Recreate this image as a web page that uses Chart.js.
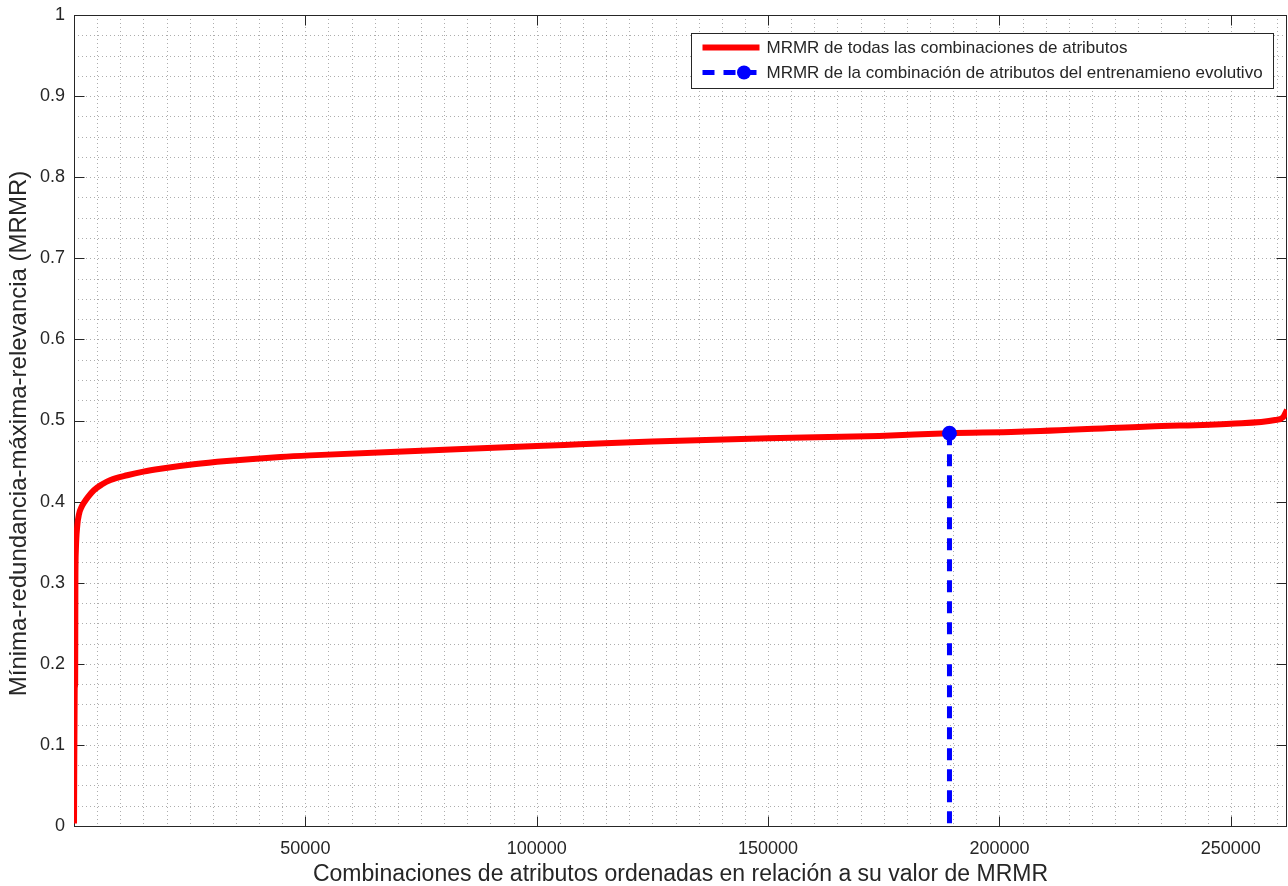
<!DOCTYPE html>
<html><head><meta charset="utf-8">
<script src="https://cdn.jsdelivr.net/npm/chart.js@4/dist/chart.umd.min.js"></script>
<style>html,body{margin:0;padding:0;background:#fff;} #wrap{width:1288px;height:886px;position:relative;}</style>
</head><body><div id="wrap"><canvas id="c" width="1288" height="886" style="width:1288px;height:886px"></canvas></div>
<script>
// ---- data ----
const combIndex = [1, 150, 250, 300, 400, 700, 1100, 1600, 2200, 3000, 4300, 6000, 7900, 11500, 15000, 18700, 25900, 33000, 44600, 51000, 75000, 100000, 109300, 125000, 150000, 174000, 189200, 204000, 232300, 250000, 259600, 261300, 262143];
const mrmrValues = [0.003, 0.17, 0.176, 0.30, 0.34, 0.37, 0.385, 0.393, 0.399, 0.4055, 0.414, 0.421, 0.4266, 0.4325, 0.437, 0.4405, 0.446, 0.450, 0.455, 0.457, 0.4627, 0.4686, 0.4706, 0.474, 0.478, 0.481, 0.4842, 0.486, 0.4926, 0.496, 0.5006, 0.504, 0.513];
const evoIndex = [189200, 189200];
const evoValue = [0.4842, 0];
const xTickValues = [50000, 100000, 150000, 200000, 250000];
const yTickValues = [0, 0.1, 0.2, 0.3, 0.4, 0.5, 0.6, 0.7, 0.8, 0.9, 1];
const yTickLabels = ['0', '0.1', '0.2', '0.3', '0.4', '0.5', '0.6', '0.7', '0.8', '0.9', '1'];
const seriesLabels = ['MRMR de todas las combinaciones de atributos', 'MRMR de la combinación de atributos del entrenamieno evolutivo'];
const xTitle = 'Combinaciones de atributos ordenadas en relación a su valor de MRMR';
const yTitle = 'Mínima-redundancia-máxima-relevancia (MRMR)';
const xRange = [0, 262143];
const yRange = [0, 1];
const xMinorStep = 5000;
const yMinorStep = 0.025;

const FONT = "'Liberation Sans', Arial, Helvetica, sans-serif";
const TXT = '#262626';

const boxPlugin = {
  id: 'octaveBox',
  beforeDatasetsDraw(chart) {
    const {ctx, chartArea: a, scales: {x, y}} = chart;
    ctx.save();
    ctx.lineWidth = 1;
    ctx.setLineDash([1, 3]);
    ctx.strokeStyle = 'rgba(60,60,60,0.42)';
    for (let i = 1; i * xMinorStep < x.max; i++) {
      const px = Math.round(x.getPixelForValue(i * xMinorStep)) + 0.5;
      ctx.beginPath(); ctx.moveTo(px, a.top); ctx.lineTo(px, a.bottom); ctx.stroke();
    }
    for (let i = 1; i * yMinorStep < y.max - 1e-9; i++) {
      const py = Math.round(y.getPixelForValue(i * yMinorStep)) + 0.5;
      ctx.beginPath(); ctx.moveTo(a.left, py); ctx.lineTo(a.right, py); ctx.stroke();
    }
    ctx.setLineDash([]);
    ctx.strokeStyle = TXT;
    const L = Math.round(a.left) + 0.5, T = Math.round(a.top) + 0.5, R = Math.round(a.right) - 0.5, B = Math.round(a.bottom) + 0.5;
    ctx.strokeRect(L, T, R - L, B - T);
    const tl = 10;
    x.ticks.forEach(t => {
      const px = Math.round(x.getPixelForValue(t.value)) + 0.5;
      ctx.beginPath(); ctx.moveTo(px, B); ctx.lineTo(px, B - tl);
      ctx.moveTo(px, T); ctx.lineTo(px, T + tl); ctx.stroke();
    });
    y.ticks.forEach(t => {
      const py = Math.round(y.getPixelForValue(t.value)) + 0.5;
      ctx.beginPath(); ctx.moveTo(L, py); ctx.lineTo(L + tl, py);
      ctx.moveTo(R, py); ctx.lineTo(R - tl, py); ctx.stroke();
    });
    // y axis title (slightly below centre, as in the original figure)
    ctx.fillStyle = TXT;
    ctx.font = '24px ' + FONT;
    ctx.textAlign = 'center'; ctx.textBaseline = 'middle';
    ctx.translate(19, (a.top + a.bottom) / 2 + 13);
    ctx.rotate(-Math.PI / 2);
    ctx.fillText(yTitle, 0, 0);
    ctx.restore();
  },
  afterDatasetsDraw(chart) {
    const {ctx, chartArea: a} = chart;
    const ds = chart.data.datasets;
    ctx.save();
    ctx.font = '17px ' + FONT;
    const textW = Math.max(...ds.map(d => ctx.measureText(d.label).width));
    const sampleL = 11, sampleLen = 57, textOff = 75, padR = 11;
    const w = Math.round(textOff + textW + padR), h = 55;
    const x0 = Math.round(a.right - 14 - w) + 0.5, y0 = Math.round(a.top + 18) + 0.5;
    ctx.fillStyle = '#fff';
    ctx.fillRect(x0, y0, w, h);
    ctx.strokeStyle = TXT; ctx.lineWidth = 1;
    ctx.strokeRect(x0, y0, w, h);
    ds.forEach((d, i) => {
      const cy = y0 + 14 + i * 25;
      ctx.strokeStyle = d.borderColor; ctx.lineWidth = d.borderWidth;
      ctx.setLineDash(d.borderDash || []);
      ctx.beginPath(); ctx.moveTo(x0 + sampleL, cy); ctx.lineTo(x0 + sampleL + sampleLen, cy); ctx.stroke();
      ctx.setLineDash([]);
      if (d.legendMarker) {
        ctx.fillStyle = d.borderColor;
        ctx.beginPath(); ctx.arc(x0 + sampleL + sampleLen / 2 + 13, cy, 7, 0, Math.PI * 2); ctx.fill();
      }
      ctx.fillStyle = TXT; ctx.textBaseline = 'middle'; ctx.textAlign = 'left';
      ctx.fillText(d.label, x0 + textOff, cy + 1);
    });
    ctx.restore();
  }
};

new Chart(document.getElementById('c'), {
  type: 'line',
  data: {
    datasets: [
      {
        label: seriesLabels[0],
        data: combIndex.map((v, i) => ({x: v, y: mrmrValues[i]})),
        borderColor: '#ff0000', borderWidth: 6, pointRadius: 0,
        cubicInterpolationMode: 'monotone', fill: false, order: 1
      },
      {
        label: seriesLabels[1],
        data: evoIndex.map((v, i) => ({x: v, y: evoValue[i]})),
        borderColor: '#0000ff', borderWidth: 5, borderDash: [12, 9],
        pointRadius: ctx => ctx.dataIndex === 0 ? 7.5 : 0,
        pointBackgroundColor: '#0000ff', pointBorderWidth: 0,
        fill: false, order: 0, legendMarker: true
      }
    ]
  },
  options: {
    responsive: false, animation: false, devicePixelRatio: 1,
    layout: {autoPadding: false, padding: {top: 15, right: 1, left: 0, bottom: 0}},
    plugins: {legend: {display: false}, tooltip: {enabled: false}},
    scales: {
      x: {
        type: 'linear', min: xRange[0], max: xRange[1],
        afterFit: s => { s.height = 60; s.paddingLeft = 0; s.paddingRight = 0; },
        afterBuildTicks: s => { s.ticks = xTickValues.map(v => ({value: v})); },
        grid: {display: false, drawTicks: false},
        border: {display: false},
        ticks: {
          autoSkip: false, maxRotation: 0, minRotation: 0, padding: 12,
          color: TXT, font: {family: FONT, size: 18},
          callback: v => String(v)
        },
        title: {display: true, text: xTitle, color: TXT, font: {family: FONT, size: 23, lineHeight: 1}, padding: {top: 0, bottom: 0}}
      },
      y: {
        type: 'linear', min: yRange[0], max: yRange[1],
        afterFit: s => { s.width = 74; s.paddingTop = 0; s.paddingBottom = 0; },
        afterBuildTicks: s => { s.ticks = yTickValues.map(v => ({value: v})); },
        grid: {display: false, drawTicks: false},
        border: {display: false},
        ticks: {
          autoSkip: false, padding: 9,
          color: TXT, font: {family: FONT, size: 18},
          callback: (v, i) => yTickLabels[i]
        },
        title: {display: false, text: yTitle}
      }
    }
  },
  plugins: [boxPlugin]
});
</script>
</body></html>
